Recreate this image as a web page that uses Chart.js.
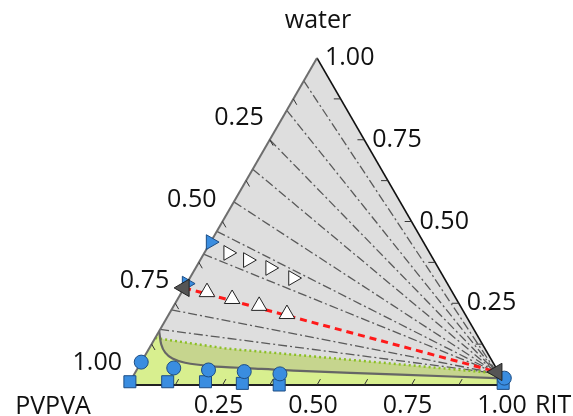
<!DOCTYPE html>
<html>
<head>
<meta charset="utf-8">
<script src="https://cdn.jsdelivr.net/npm/chart.js@4/dist/chart.umd.min.js"></script>
<style>
  html, body { margin: 0; padding: 0; background: #fff; }
</style>
</head>
<body>
<canvas id="myChart" width="573" height="416"></canvas>
<script>
// ternary compositions: rit = bottom axis, water = right axis, PVPVA = 1 - rit - water
const H = Math.sqrt(3) / 2

const tickValues = [0.25, 0.5, 0.75, 1.0]
const tickLabels = ['0.25', '0.50', '0.75', '1.00']
const minorTicks = [0.125, 0.25, 0.375, 0.5, 0.625, 0.75, 0.875]

// binodal (grey solid curve)
const binodalRit = [0, 0.026, 0.049, 0.077, 0.117, 0.188, 0.298, 0.434, 0.704, 0.98, 1]
const binodalWater = [0.165, 0.124, 0.099, 0.081, 0.068, 0.058, 0.051, 0.043, 0.032, 0.02, 0]

// green dotted boundary
const dottedRit = [0, 0.2, 0.45, 0.7, 0.955, 1]
const dottedWater = [0.144, 0.112, 0.087, 0.062, 0.036, 0]

// tie lines: start on the left edge (rit = 0), end near the RIT corner
const tieStartWater = [0.93, 0.84, 0.75, 0.66, 0.56, 0.47, 0.40, 0.23, 0.17]
const tieEndRit = [0.96, 0.96, 0.96, 0.96, 0.96, 0.96, 0.96, 0.96, 0.96]
const tieEndWater = [0.035, 0.035, 0.035, 0.035, 0.035, 0.035, 0.035, 0.035, 0.035]

// markers
const circleRit = [0, 0.095, 0.19, 0.287, 0.385, 0.985]
const circleWater = [0.07, 0.052, 0.046, 0.041, 0.034, 0.021]
const squareRit = [0, 0.1, 0.2, 0.3, 0.4, 0.99]
const squareWater = [0.01, 0.01, 0.01, 0.005, 0.0, 0.005]
const blueTriRit = [0, 0]
const blueTriWater = [0.437, 0.31]
const whiteRightRit = [0.063, 0.126, 0.197, 0.273]
const whiteRightWater = [0.404, 0.382, 0.358, 0.327]
const whiteUpRit = [0.067, 0.144, 0.226, 0.312]
const whiteUpWater = [0.284, 0.263, 0.242, 0.217]
const darkTriRit = [0, 0.956]
const darkTriWater = [0.297, 0.04]
const redLineRit = [0, 0.956]
const redLineWater = [0.297, 0.04]

function pt(rit, water) {
    return { x: rit + water * 0.5, y: water * H }
}
function pts(ritArr, waterArr) {
    return ritArr.map((r, i) => pt(r, waterArr[i]))
}

function render_chart() {
    const corners = { L: pt(0, 0), R: pt(1, 0), T: pt(0, 1) }

    const datasets = [
        // grey triangle background
        {
            data: [corners.L, corners.T, corners.R],
            showLine: true, pointRadius: 0, borderWidth: 0,
            backgroundColor: '#dedede', fill: 'origin', order: 20,
        },
        // olive band below dotted line
        {
            data: [corners.L].concat(pts(dottedRit, dottedWater)),
            showLine: true, pointRadius: 0, borderWidth: 0,
            backgroundColor: '#c6d58e', fill: 'origin', order: 19,
        },
        // light green below binodal
        {
            data: [corners.L].concat(pts(binodalRit, binodalWater)),
            showLine: true, pointRadius: 0, borderWidth: 0,
            backgroundColor: '#d8ef8f', fill: 'origin', order: 18,
        },
    ]

    tieStartWater.forEach((w, i) => {
        datasets.push({
            data: [pt(0, w), pt(tieEndRit[i], tieEndWater[i])],
            showLine: true, pointRadius: 0, borderWidth: 1.3,
            borderColor: '#5a5a5a', borderDash: [9, 3, 2, 3], fill: false, order: 15,
        })
    })

    datasets.push(
        {
            data: pts(dottedRit.slice(0, -1), dottedWater.slice(0, -1)),
            showLine: true, pointRadius: 0, borderWidth: 2.5,
            borderColor: '#8cbf26', borderDash: [2, 3], fill: false, order: 12,
        },
        {
            data: pts(binodalRit.slice(0, -1), binodalWater.slice(0, -1)),
            showLine: true, pointRadius: 0, borderWidth: 2.2, tension: 0.3,
            borderColor: '#666666', fill: false, order: 11,
        },
        {
            data: pts(redLineRit, redLineWater),
            showLine: true, pointRadius: 0, borderWidth: 3,
            borderColor: '#ff1a1a', borderDash: [7, 5], fill: false, order: 10,
        },
        // triangle edges
        {
            data: [corners.L, corners.T],
            showLine: true, pointRadius: 0, borderWidth: 2,
            borderColor: '#6e6e6e', fill: false, order: 9,
        },
        {
            data: [corners.T, corners.R],
            showLine: true, pointRadius: 0, borderWidth: 1.5,
            borderColor: '#111111', fill: false, order: 9,
        },
        {
            data: [corners.L, corners.R],
            showLine: true, pointRadius: 0, borderWidth: 2,
            borderColor: '#222222', fill: false, order: 9,
        },
        // markers
        {
            data: pts(squareRit, squareWater),
            pointStyle: 'rect', pointRadius: 8.5, borderWidth: 1,
            backgroundColor: '#3a8de0', borderColor: '#1d4d84', order: 5,
        },
        {
            data: pts(circleRit, circleWater),
            pointStyle: 'circle', pointRadius: 7, borderWidth: 1,
            backgroundColor: '#3a8de0', borderColor: '#1d4d84', order: 4,
        },
        {
            data: pts(blueTriRit, blueTriWater),
            pointStyle: 'triangle', rotation: 90, pointRadius: 8.5, borderWidth: 1,
            backgroundColor: '#3a8de0', borderColor: '#1d4d84', order: 3,
        },
        {
            data: pts(whiteRightRit, whiteRightWater),
            pointStyle: 'triangle', rotation: 90, pointRadius: 8.5, borderWidth: 1,
            backgroundColor: '#ffffff', borderColor: '#222222', order: 3,
        },
        {
            data: pts(whiteUpRit, whiteUpWater),
            pointStyle: 'triangle', rotation: 0, pointRadius: 9, borderWidth: 1,
            backgroundColor: '#ffffff', borderColor: '#222222', order: 2,
        },
        {
            data: pts(darkTriRit, darkTriWater),
            pointStyle: 'triangle', rotation: -90, pointRadius: 10, borderWidth: 1,
            backgroundColor: '#555555', borderColor: '#222222', order: 1,
        },
    )

    datasets.forEach(d => { d.clip = false })

    // ticks and labels along the three sides
    const ternaryAxes = {
        id: 'ternaryAxes',
        afterDraw(chart) {
            const { ctx, scales } = chart
            const px = p => ({ x: scales.x.getPixelForValue(p.x), y: scales.y.getPixelForValue(p.y) })
            ctx.save()
            ctx.strokeStyle = '#333'
            ctx.lineWidth = 1
            const tick = (a, b) => {
                ctx.beginPath()
                ctx.moveTo(a.x, a.y)
                ctx.lineTo(b.x, b.y)
                ctx.stroke()
            }
            minorTicks.forEach(v => {
                // bottom: rit, tick parallel to left side
                tick(px(pt(v, 0)), px(pt(v, 0.018)))
                // right: water, horizontal tick
                tick(px(pt(1 - v, v)), px(pt(1 - v - 0.018, v)))
                // left: PVPVA, tick parallel to right side
                tick(px(pt(0, 1 - v)), px(pt(0.018, 1 - v - 0.018)))
            })
            ctx.fillStyle = '#111'
            ctx.font = '25px "Open Sans"'
            ctx.textBaseline = 'middle'
            tickValues.forEach((v, i) => {
                const b = px(pt(v, 0))
                ctx.textAlign = 'center'
                ctx.fillText(tickLabels[i], b.x - 4, b.y + 21)
                const r = px(pt(1 - v, v))
                ctx.textAlign = 'left'
                ctx.fillText(tickLabels[i], r.x + 8, r.y)
                const l = px(pt(0, 1 - v))
                ctx.textAlign = 'right'
                ctx.fillText(tickLabels[i], l.x - 6, l.y - 22)
            })
            ctx.textAlign = 'left'
            ctx.fillText('RIT', px(corners.R).x + 29, px(corners.R).y + 21)
            ctx.textAlign = 'center'
            ctx.fillText('PVPVA', 53, px(corners.L).y + 22)
            ctx.fillText('water', px(corners.T).x + 1, 21)
            ctx.restore()
        },
    }

    const config = {
        type: 'scatter',
        data: { datasets: datasets },
        options: {
            responsive: false,
            animation: false,
            layout: { padding: { left: 128, right: 67, top: 58, bottom: 31 } },
            scales: {
                x: { type: 'linear', min: 0, max: 1, display: false },
                y: { type: 'linear', min: 0, max: H, display: false },
            },
            plugins: { legend: { display: false }, tooltip: { enabled: false } },
        },
        plugins: [ternaryAxes],
    }

    const myChart = new Chart(document.getElementById('myChart'), config)
}

document.addEventListener('DOMContentLoaded', render_chart)
</script>
</body>
</html>
